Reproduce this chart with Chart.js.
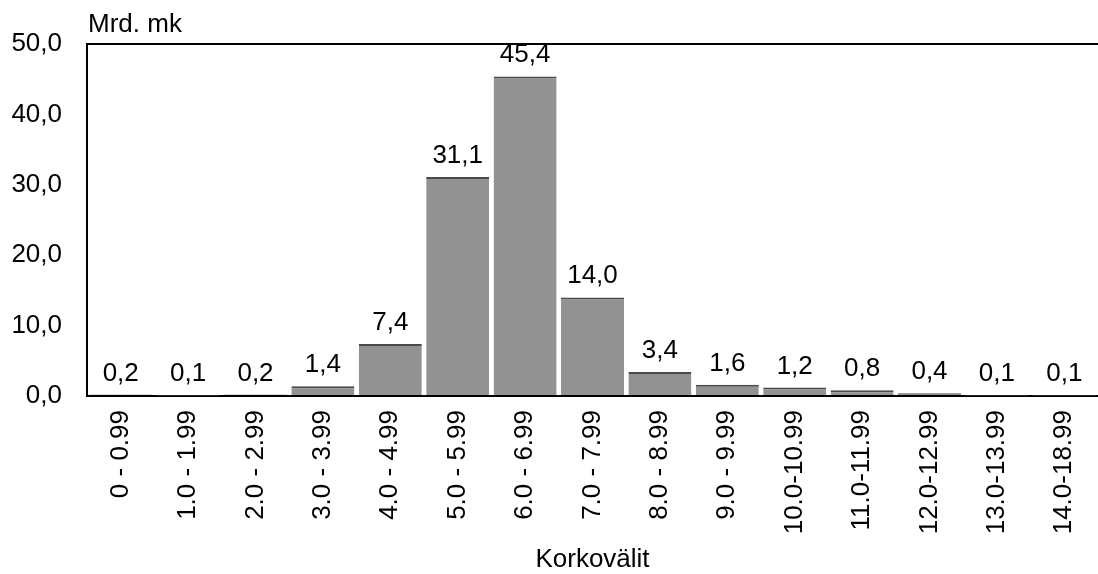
<!DOCTYPE html>
<html>
<head>
<meta charset="utf-8">
<script src="https://cdn.jsdelivr.net/npm/chart.js@4/dist/chart.umd.min.js"></script>
<style>
  body { margin: 0; background: #fff; }
  #wrap { width: 1098px; height: 574px; }
</style>
</head>
<body>
<div id="wrap"><canvas id="grafico" width="1098" height="574"></canvas></div>
<script>
// datos
const korkovalit = ['0 - 0.99', '1.0 - 1.99', '2.0 - 2.99', '3.0 - 3.99', '4.0 - 4.99',
    '5.0 - 5.99', '6.0 - 6.99', '7.0 - 7.99', '8.0 - 8.99', '9.0 - 9.99',
    '10.0-10.99', '11.0-11.99', '12.0-12.99', '13.0-13.99', '14.0-18.99'];
const mrdMk = [0.2, 0.1, 0.2, 1.4, 7.4, 31.1, 45.4, 14.0, 3.4, 1.6, 1.2, 0.8, 0.4, 0.1, 0.1];
const yMax = 50;
const yPaso = 10;

const FUENTE = '"Liberation Sans", Arial, sans-serif';
const coma = v => Number(v).toFixed(1).replace('.', ',');

// etiquetas encima de las barras + títulos de ejes
const textos = {
    id: 'textos',
    afterDatasetsDraw(chart) {
        const ctx = chart.ctx;
        ctx.save();
        ctx.fillStyle = '#000';
        ctx.font = '26px ' + FUENTE;
        ctx.textAlign = 'center';
        ctx.textBaseline = 'alphabetic';
        chart.getDatasetMeta(0).data.forEach((bar, i) => {
            ctx.fillText(coma(mrdMk[i]), bar.x, bar.y - 14);
        });
        const area = chart.chartArea;
        ctx.fillText('Korkovälit', (area.left + area.right) / 2, 567);
        ctx.textAlign = 'left';
        ctx.fillText('Mrd. mk', area.left + 1, 32);
        ctx.restore();
    }
};

new Chart(document.getElementById('grafico').getContext('2d'), {
    type: 'bar',
    data: {
        labels: korkovalit,
        datasets: [{
            data: mrdMk,
            backgroundColor: '#929292',
            borderColor: '#4a4a4a',
            borderWidth: { top: 2, left: 0, right: 0, bottom: 0 },
            borderSkipped: 'bottom',
            barPercentage: 0.935,
            categoryPercentage: 1
        }]
    },
    options: {
        responsive: false,
        animation: false,
        layout: { padding: { top: 44, left: 0, right: 0, bottom: 0 } },
        plugins: { legend: { display: false }, tooltip: { enabled: false } },
        scales: {
            x: {
                grid: { display: false, drawTicks: false },
                border: { display: true, color: '#000', width: 2 },
                ticks: {
                    color: '#000',
                    font: { family: FUENTE, size: 26 },
                    maxRotation: 90,
                    minRotation: 90,
                    autoSkip: false,
                    padding: 14
                },
                afterFit: s => { s.height = 178; s.paddingLeft = 0; s.paddingRight = 0; }
            },
            y: {
                min: 0,
                max: yMax,
                grid: {
                    drawTicks: false,
                    color: c => (c.tick && c.tick.value === yMax ? '#000' : 'rgba(0,0,0,0)'),
                    lineWidth: 2
                },
                border: { display: true, color: '#000', width: 2 },
                ticks: {
                    stepSize: yPaso,
                    color: '#000',
                    font: { family: FUENTE, size: 26 },
                    padding: 25,
                    callback: v => coma(v)
                },
                afterFit: s => { s.width = 87; }
            }
        }
    },
    plugins: [textos]
});
</script>
</body>
</html>
